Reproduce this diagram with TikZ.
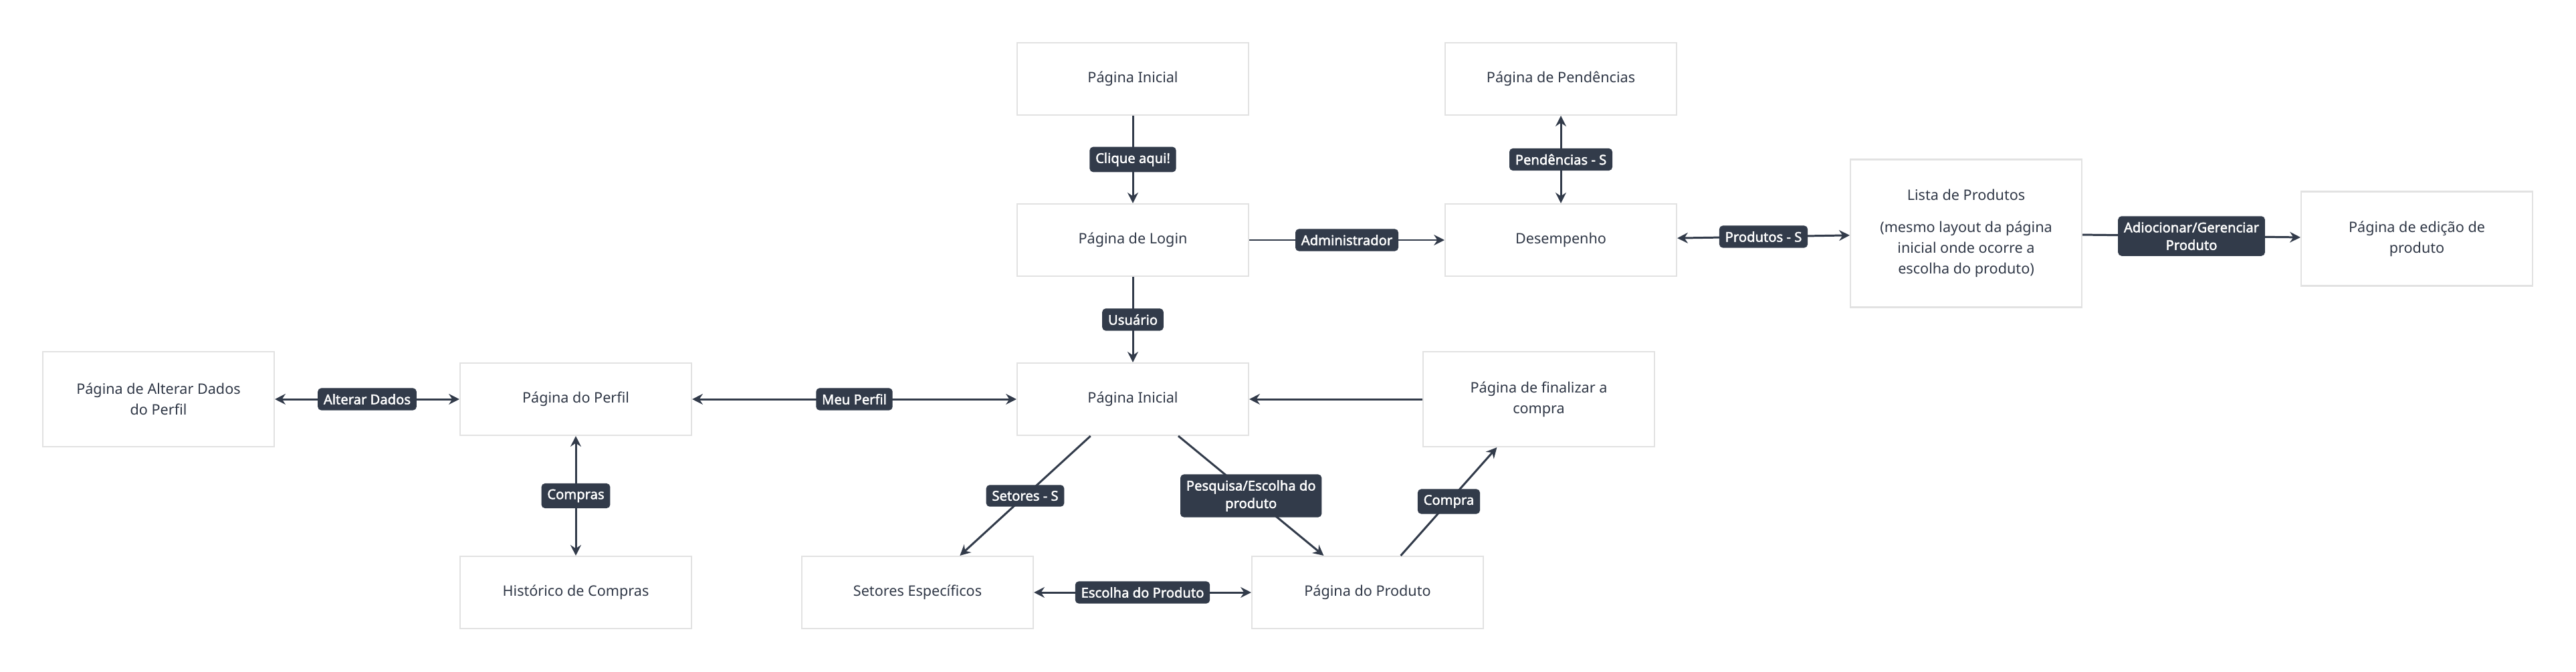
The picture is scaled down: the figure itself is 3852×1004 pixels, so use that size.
\documentclass[tikz,border=0pt]{standalone}
\usepackage{fontspec}
\setmainfont{Noto Sans}
\newfontfamily\labelfont{Noto Sans}[FakeBold=2]
\usetikzlibrary{arrows.meta}
\definecolor{slate}{HTML}{323B4A}
\definecolor{boxline}{HTML}{E2E2E2}
\definecolor{inktext}{HTML}{2F3746}
\begin{document}
\begin{tikzpicture}[
  x=0.02cm, y=-0.02cm,
  >={Stealth[length=9pt,width=9pt]},
  nodebox/.style={draw=boxline,line width=1.2pt,fill=white,align=center,minimum width=6.92cm,minimum height=2.16cm,text=inktext,font=\fontsize{12.3}{17.6}\selectfont},
  tallbox/.style={nodebox,minimum height=2.84cm},
  edgelabel/.style={fill=slate,text=white,rounded corners=3pt,inner xsep=5pt,inner ysep=5pt,align=center,font=\labelfont\fontsize{11.5}{15}\selectfont},
  flow/.style={draw=slate,line width=1.7pt}
]
  \useasboundingbox[fill=white] (0,0) rectangle (3852,1004);

  \node[nodebox] (Inicio) at (1694,118) {Página Inicial};
  \node[nodebox] (Pend)   at (2334,118) {Página de Pendências};
  \node[nodebox] (Login)  at (1694,359) {Página de Login};
  \node[nodebox] (Desemp) at (2334,359) {Desempenho};
  \node[nodebox,minimum height=4.42cm] (Lista) at (2940,349) {Lista de Produtos\\[10pt](mesmo layout da página\\inicial onde ocorre a\\escolha do produto)};
  \node[nodebox,minimum height=2.82cm] (Edicao) at (3614,357) {Página de edição de\\produto};
  \node[tallbox] (Alterar) at (237,597) {Página de Alterar Dados\\do Perfil};
  \node[nodebox] (Perfil)  at (861,597) {Página do Perfil};
  \node[nodebox] (Home)    at (1694,597) {Página Inicial};
  \node[tallbox] (Final)   at (2301,597) {Página de finalizar a\\compra};
  \node[nodebox] (Hist)    at (861,886) {Histórico de Compras};
  \node[nodebox] (Setores) at (1372,886) {Setores Específicos};
  \node[nodebox] (Produto) at (2045,886) {Página do Produto};

  \draw[flow,->] (Inicio) -- node[edgelabel] {Clique aqui!} (Login);
  \draw[flow,->] (Login) -- node[edgelabel] {Administrador} (Desemp);
  \draw[flow,<->] (Desemp) -- node[edgelabel] {Pendências - S} (Pend);
  \draw[flow,<->] (Desemp) -- node[edgelabel] {Produtos - S} (Lista);
  \draw[flow,->] (Lista) -- node[edgelabel] {Adiocionar/Gerenciar\\Produto} (Edicao);
  \draw[flow,->] (Login) -- node[edgelabel] {Usuário} (Home);
  \draw[flow,<->] (Alterar) -- node[edgelabel] {Alterar Dados} (Perfil);
  \draw[flow,<->] (Perfil) -- node[edgelabel] {Meu Perfil} (Home);
  \draw[flow,<->] (Perfil) -- node[edgelabel] {Compras} (Hist);
  \draw[flow,->] (Home.221) -- node[edgelabel] {Setores - S} (Setores.41);
  \draw[flow,->] (Home.-39) -- node[edgelabel] {Pesquisa/Escolha do\\produto} (Produto.140);
  \draw[flow,->] (Produto.48) -- node[edgelabel] {Compra} (Final.229);
  \draw[flow,->] (Final) -- (Home);
  \draw[flow,<->] (Setores) -- node[edgelabel] {Escolha do Produto} (Produto);
\end{tikzpicture}
\end{document}
